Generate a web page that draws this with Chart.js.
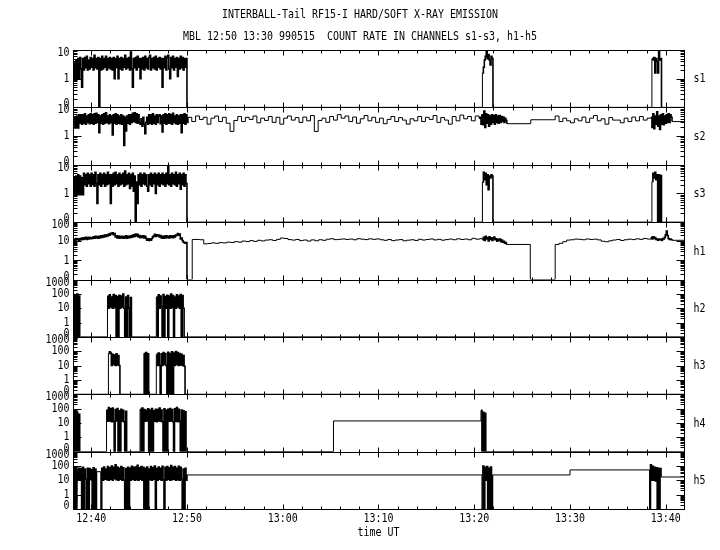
<!DOCTYPE html>
<html>
<head>
<meta charset="utf-8">
<script src="https://cdn.jsdelivr.net/npm/chart.js@4.4.0/dist/chart.umd.min.js"></script>
<style>
  html, body { margin: 0; padding: 0; background: #fff; }
</style>
</head>
<body>
<canvas id="graph" width="720" height="550"></canvas>
<script>
// times are minutes after 12:00 UT; a run is [start, step, values]
const title1 = 'INTERBALL-Tail RF15-I HARD/SOFT X-RAY EMISSION';
const title2 = 'MBL 12:50 13:30 990515  COUNT RATE IN CHANNELS s1-s3, h1-h5';
const xTitle = 'time UT';
const timeMin = 38.1, timeMax = 101.9;
const tickMinutes = [40, 50, 60, 70, 80, 90, 100];
const tickLabels = ['12:40', '12:50', '13:00', '13:10', '13:20', '13:30', '13:40'];
const channels = ['s1', 's2', 's3', 'h1', 'h2', 'h3', 'h4', 'h5'];
const channelMax = [10, 10, 10, 100, 1000, 1000, 1000, 1000];

const s1 = [
  [38.1, 0.1, [1, 3.5, 1, 4.5, 1, 5, 1, 5.5, 2.2, 0.5,
               5, 2, 5.5, 2.4, 6, 2, 4.5, 2.2, 5.5, 2.5,
               5, 2, 6.5, 2.4, 5, 2.2, 5.5, 0, 5, 2,
               6, 2.2, 5, 2.5, 6, 2, 5, 2.4, 5.5, 2.2,
               5, 2, 5.5, 1, 5, 2.4, 6, 1, 5, 2.2,
               5.5, 2, 5, 2.5, 6.5, 2.2, 5, 2.4, 5.5, 2,
               8.5, 2.2, 0.5, 5, 2.4, 5.5, 2, 6, 2.5, 5,
               1, 5, 2.2, 5.5, 2, 6, 2.4, 5, 2.2, 5.5,
               6.5, 2, 5, 2.4, 5.5, 2.2, 6, 2, 5, 2.5,
               5.5, 2.2, 5, 0.5, 5, 2.4, 6, 2, 5.5, 6.5,
               2.2, 1, 5.5, 2.4, 6, 2, 5, 2.5, 5.5, 1.2,
               5, 2.2, 6, 2.4, 5.5, 2, 5, 2.5, 5]],
  [50.0, 0, [0]],
  [80.85, 0.1, [1.6, 2.5, 4.5, 6, 9, 5, 7, 4.5, 3, 6, 5]],
  [81.95, 0, [0]],
  [98.55, 0.1, [5, 4.5, 5.5, 1.6, 5, 4, 1.6, 9, 4.5, 5]],
  [99.55, 0, [0]],
  [101.9, 0, [0]]
];

const s2 = [
  [38.1, 0.1, [1.9, 1.9, 4.5, 1.9, 5, 1.9, 5.5, 2.8, 5.5, 2.6,
               5.5, 2.8, 6, 2.6, 5, 3, 5.5, 2.7, 6, 2.8,
               5.5, 2.6, 6, 2.8, 6.2, 3, 5.5, 1.3, 5, 2.8,
               5.5, 2.6, 6, 2.8, 6.5, 3, 5, 2.7, 5.5, 2.9,
               5, 1.1, 5.5, 2.8, 6, 2.6, 5.5, 2.8, 5, 2.7,
               5.5, 2.6, 5, 0.47, 4.5, 1.5, 5, 2.8, 5.5, 2.6,
               5.5, 3, 6.2, 3.2, 6.5, 3, 6, 2.8, 5.5, 3,
               2.6, 4, 2.2, 4.5, 2.6, 1.2, 3, 4.5, 2.6, 5.5,
               2.8, 5.5, 2.6, 6, 2.8, 5, 2.6, 5.5, 3, 5,
               5.5, 2.7, 5, 1.4, 5.5, 2.8, 6, 2.6, 5.5, 2.8,
               6, 2.8, 5.5, 2.6, 6.2, 3, 5, 2.7, 5.5, 2.6,
               5, 2.8, 5.5, 1.3, 5.5, 2.8, 6, 2.6, 5.5, 3]],
  [50.1, 0.4, [4.5, 3.2, 5, 3.8, 4.5, 2.6, 4.2, 5, 3.2, 4.5,
               2.8, 1.45, 3.5, 4.8, 3.2, 4.5, 3.8, 5, 2.9, 4.2,
               3.5, 4.8, 3, 4.5, 2.6, 4.2, 5, 3.6, 4.4, 3,
               4.6, 3.4, 5.2, 1.45, 3.5, 4.2, 3, 4.8, 3.6, 5.6,
               4.2, 5, 3.2, 4.6, 2.8, 4, 5.2, 3.4, 4.5, 3,
               4.2, 2.7, 3.8, 4.8, 3.2, 4.4, 3.6, 2.6, 4, 3.4,
               4.8, 3.2, 4.5, 3.8, 5.2, 3, 4.4, 3.6, 2.6, 4.8,
               3.4, 5.4, 4, 4.8, 3.4, 5, 4.2]],
  [80.6, 0.1, [4.5, 2.6, 5.5, 2.5, 7.5, 2, 6, 2.8, 5.5, 2.2,
               5, 2.6, 5.5, 3, 5.2, 2.6, 5.5, 3, 5, 2.8,
               5.2, 3, 4.8, 3.2, 4.6, 3, 4.2, 3.5]],
  [83.4, 0, [2.7]],
  [85.9, 0, [3.7]],
  [88.45, 0.4, [5, 3.2, 4.2, 3.4, 2.9, 4, 3.4, 4.6, 3, 4.2,
                5.2, 3.4, 4, 2.6, 4.4, 3.6, 3.6, 2.9, 4.2, 3.2,
                4.6, 3.4, 4.8, 3.6, 4.2]],
  [98.45, 0.1, [4.5, 2, 6, 1.8, 5, 2.6, 7, 2.2, 5, 1.7,
                5.5, 2.6, 6, 2.5, 5, 2.8, 5.5, 3, 6, 3, 5.5, 4.5]],
  [100.65, 0, [3.2]],
  [101.9, 0, [3.2]]
];

const s3 = [
  [38.1, 0.1, [0.9, 3.5, 0.9, 4, 0.9, 4.5, 0.9, 4, 0.9, 3.5,
               0.9, 5, 2, 4.5, 1.8, 5, 2.2, 4.5, 1.8, 5,
               2, 4.5, 1.8, 5.5, 2.2, 0.45, 4.5, 2, 5, 1.8,
               4.5, 2.2, 5, 1.8, 4.5, 2, 5.5, 2.2, 4.5, 0.45,
               4.5, 1.8, 5, 2, 5.5, 2.2, 4.5, 1.8, 5, 2,
               4.5, 2.2, 5, 1.8, 6, 2, 4.5, 2.2, 5, 1.5,
               4.5, 1.8, 5, 1.2, 4, 0, 2.5, 0.45, 4.5, 2,
               5, 1.8, 4.5, 2.2, 5, 2, 4.5, 1.8, 1.2, 4.5,
               2, 5, 1.8, 4.5, 2.2, 5, 1, 4.5, 2, 5,
               1.8, 4.5, 2.2, 5, 2, 4.5, 1.8, 5, 2.2, 9.5,
               2, 4.5, 1.8, 5, 2.2, 4.5, 2, 5.5, 1.8, 4.5,
               2.2, 5, 1.4, 4.5, 2, 5, 1.8, 4.5, 2.2]],
  [50.0, 0, [0]],
  [80.85, 0.1, [2.5, 5.5, 3, 5, 2, 4.5, 1.35, 4, 3.5, 4.5, 4]],
  [81.95, 0, [0]],
  [98.55, 0.1, [2.6, 5, 3.5, 5.5, 3, 4.5, 0, 4.5, 0, 4.2]],
  [99.55, 0, [0]],
  [101.9, 0, [0]]
];

const h1 = [
  [38.1, 0.1, [11, 13, 11, 14, 12, 13.5, 11.5, 14, 12, 14.5,
               12.5, 15, 13, 16, 12.5, 15.5, 13, 16, 13.5, 15,
               14, 17, 14.5, 18, 15, 17.5, 14.5, 18, 15.5, 19,
               16, 20, 17, 21, 18, 22, 19, 24, 21, 26,
               24, 28, 22, 25, 17, 19, 15, 18.5, 14.5, 18,
               15, 18, 14.5, 17.5, 15, 19, 14.5, 18, 15.5, 18.5,
               16, 20, 17, 22, 18, 24, 19, 23, 17, 20,
               15.5, 18.5, 16, 19, 15, 18, 14, 11.5, 13.5, 11,
               13, 11.5, 14, 17, 19, 23, 18, 22, 19, 21,
               17, 20, 15, 18, 14.5, 18.5, 15, 19, 15.5, 18,
               15, 19, 16, 18.5, 15.5, 19, 17, 21, 20, 25,
               21, 24, 13, 14.5, 11, 9, 8.5, 8, 8.5]],
  [50.0, 0, [0]],
  [50.55, 0.4, [12.4, 12.4, 12, 7.3, 7.6, 8.2, 7.8, 8.5, 8.2, 9,
                8.6, 9.5, 9, 10.2, 9.6, 10.8, 9.8, 11.2, 10.4, 11.5,
                12, 11, 12.6, 14.7, 14, 12.2, 11.5, 12.4, 10.8, 11.6,
                10.2, 11.8, 10.6, 12, 11.2, 12.8, 13.5, 12.2, 12.6, 13.2,
                12.4, 13, 12, 13.6, 12.8, 12.2, 13.4, 12.6, 13.2, 12,
                11.2, 12.4, 10.8, 11.6, 12.2, 10.6, 11.4, 12, 11, 12.6,
                11.6, 12.4, 13.2, 11.8, 12.6, 11.4, 12.2, 13, 12, 13.4,
                12.4, 13, 12, 14.2, 12.8, 13.6]],
  [80.85, 0.1, [12, 16, 11, 18, 13, 15.5, 10.5, 17, 12.5, 15,
                11, 14, 16.5, 12, 13.5, 10, 12.5, 11, 13, 9.5,
                11.5, 9, 10, 8, 8.5]],
  [83.35, 0, [6.8]],
  [85.85, 0, [0]],
  [88.45, 0.4, [6.8, 7.8, 9.5, 11.5, 12, 13, 12.6, 12, 13.2, 12.4,
                12.8, 11.8, 10, 9.4, 10.6, 11.6, 12.4, 11, 12, 12.8,
                12.2, 13.4, 12.6, 14, 13]],
  [98.45, 0.1, [16, 13, 17, 14, 15.5, 12.5, 13, 11.5, 13, 12,
                12.5, 11, 14, 13, 16, 22, 33.8, 20, 14, 12.5, 13, 12]],
  [100.65, 0, [11.2]],
  [101.9, 0, [11.2]]
];

const h2 = [
  [38.1, 0.1, [90, 0, 80, 0, 95, 0, 70, 0]],
  [38.9, 0, [0]],
  [41.7, 0.1, [70, 10, 85, 12, 60, 10, 90, 11, 75, 0,
               65, 0, 80, 10, 70, 12, 95, 10, 0, 60,
               0, 75, 10, 0, 55]],
  [44.2, 0, [0]],
  [46.8, 0.1, [60, 0, 85, 10, 70, 12, 0, 90, 0, 65,
               10, 80, 0, 70, 10, 95, 11, 75, 0, 60,
               10, 85, 12, 70, 10, 90, 0, 75, 10]],
  [49.7, 0, [0]],
  [101.9, 0, [0]]
];

const h3 = [
  [38.1, 0, [0]],
  [41.8, 0.1, [70, 90, 75, 10, 60, 12, 55, 10, 65, 11, 50, 10]],
  [43.0, 0, [0]],
  [45.5, 0.1, [70, 0, 80, 0, 65]],
  [46.0, 0, [0]],
  [46.8, 0.1, [60, 10, 75, 10, 0, 65, 10, 80, 12, 70,
               10, 0, 85, 0, 70, 0, 90, 0, 75, 10,
               95, 12, 80, 10, 70, 11, 60, 10, 50, 9]],
  [49.8, 0, [0]],
  [101.9, 0, [0]]
];

const h4 = [
  [38.1, 0.1, [50, 0, 45, 0, 55, 0, 40, 0]],
  [38.9, 0, [0]],
  [41.6, 0.1, [80, 13, 120, 14, 95, 12, 110, 13, 0, 85,
               14, 100, 0, 70, 0, 90, 13, 75, 12, 0, 65, 0]],
  [43.8, 0, [0]],
  [45.1, 0.1, [90, 0, 110, 0, 85, 13, 75, 14, 95, 0,
               80, 0, 100, 0, 70, 13, 90, 12, 85, 14,
               110, 13, 80, 12, 0, 95, 0, 75, 0, 90,
               13, 100, 14, 85, 12, 0, 95, 13, 120, 12,
               90, 14, 0, 80, 0, 70, 0, 60, 0]],
  [50.0, 0, [0]],
  [65.3, 0, [13.8]],
  [80.7, 0.1, [75, 0, 55, 0, 47]],
  [81.2, 0, [0]],
  [101.9, 0, [0]]
];

const h5 = [
  [38.1, 0.1, [60, 0, 75, 0, 55, 12, 70, 11, 65, 0,
               80, 0, 60, 12, 0, 70, 0, 65, 11, 55,
               0, 75, 0, 60]],
  [40.5, 0, [0]],
  [40.55, 0, [40]],
  [41.0, 0.1, [0, 70, 10, 85, 12, 60, 11, 90, 10, 75,
               12, 100, 10, 80, 13, 120, 11, 85, 10, 70,
               12, 90, 10, 75, 11, 0, 65, 0, 80, 0,
               70, 10, 95, 12, 80, 10, 85, 11, 110, 10,
               75, 12, 90, 10, 80, 0, 70, 0, 85, 0,
               60, 11, 90, 10, 75, 12, 100, 0, 65, 10,
               85, 12, 70, 10, 95, 11, 0, 80, 10, 90,
               12, 75, 10, 105, 11, 80, 12, 90, 10, 70,
               11, 95, 10, 80, 12, 0, 60, 0, 70, 10]],
  [50.0, 0, [23.7]],
  [80.8, 0.1, [0, 100, 0, 80, 10, 90, 0, 70, 0, 85, 0]],
  [81.9, 0, [23.7]],
  [90.0, 0, [53]],
  [98.3, 0.1, [0, 120, 10, 95, 10, 80, 9, 75, 0, 70, 0, 65]],
  [99.5, 0, [17]],
  [101.9, 0, [17]]
];

const series = [s1, s2, s3, h1, h2, h3, h4, h5];

// zero counts sit on the bottom of the log panel
function toPoints(runs) {
  let pts = [];
  runs.forEach(([t0, dt, vals]) => {
    vals.forEach((v, i) => {
      pts.push({x: +(t0 + i * dt).toFixed(2), y: v > 0.1 ? v : 0.1});
    });
  });
  return pts;
}

const datasets = series.map((runs, i) => ({
  label: channels[i],
  data: toPoints(runs),
  yAxisID: channels[i],
  borderColor: '#000',
  borderWidth: 1,
  pointRadius: 0,
  stepped: true,
  fill: false,
  // densely sampled stretches get a slightly heavier pen so they read as solid
  segment: {
    borderWidth: (c) => (c.p1.parsed.x - c.p0.parsed.x) < 0.15 ? 1.6 : 1
  }
}));

const scales = {
  x: {type: 'linear', min: timeMin, max: timeMax, display: false}
};
channels.forEach((name, i) => {
  scales[name] = {
    type: 'logarithmic',
    min: 0.1,
    max: channelMax[i],
    position: 'left',
    stack: 'panels',
    stackWeight: 1,
    weight: channels.length - i,
    display: false
  };
});

function label(ctx, s, x, y, align) {
  ctx.save();
  ctx.translate(x, y);
  ctx.scale(0.83, 1);
  ctx.textAlign = align;
  ctx.textBaseline = 'middle';
  ctx.fillText(s, 0, 0);
  ctx.restore();
}

const panelFrame = {
  id: 'panelFrame',
  afterDraw(chart) {
    const ctx = chart.ctx;
    const area = chart.chartArea;
    const xs = chart.scales.x;
    const L = Math.round(area.left) + 0.5;
    const R = Math.round(area.right) + 0.5;
    ctx.save();
    ctx.strokeStyle = '#000';
    ctx.fillStyle = '#000';
    ctx.lineWidth = 1;
    ctx.font = '12px "DejaVu Sans Mono"';

    channels.forEach((name, i) => {
      const sc = chart.scales[name];
      const T = Math.round(sc.top) + 0.5;
      const B = Math.round(sc.bottom) + 0.5;
      ctx.strokeRect(L, T, R - L, B - T);
      ctx.beginPath();
      for (let m = 40; m <= 100; m += 2) {
        const x = Math.round(xs.getPixelForValue(m)) + 0.5;
        const len = m % 10 === 0 ? 5 : 3;
        ctx.moveTo(x, T); ctx.lineTo(x, T + len);
        ctx.moveTo(x, B); ctx.lineTo(x, B - len);
      }
      const topExp = Math.round(Math.log10(channelMax[i]));
      for (let e = -1; e <= topExp; e++) {
        for (let k = 1; k <= 9; k++) {
          if (e === topExp && k > 1) break;
          const y = Math.round(sc.getPixelForValue(k * Math.pow(10, e))) + 0.5;
          const len = k === 1 ? 8 : 4;
          ctx.moveTo(L, y); ctx.lineTo(L + len, y);
          ctx.moveTo(R, y); ctx.lineTo(R - len, y);
        }
      }
      ctx.stroke();

      for (let e = -1; e <= topExp; e++) {
        let y = sc.getPixelForValue(Math.pow(10, e));
        if (e === -1) y = B - 4;
        if (e === topExp) y = T + 2;
        label(ctx, e < 0 ? '0' : String(Math.pow(10, e)), L - 4, y, 'right');
      }
      label(ctx, name, R + 9, (T + B) / 2, 'left');
    });

    tickMinutes.forEach((m, i) => {
      label(ctx, tickLabels[i], xs.getPixelForValue(m), 519, 'center');
    });
    label(ctx, xTitle, (area.left + area.right) / 2, 533, 'center');
    label(ctx, title1, 360, 15, 'center');
    label(ctx, title2, 360, 37, 'center');
    ctx.restore();
  }
};

const chart = new Chart(document.getElementById('graph'), {
  type: 'line',
  data: {datasets},
  options: {
    responsive: false,
    animation: false,
    events: [],
    layout: {padding: {left: 73, right: 36, top: 50, bottom: 41}},
    scales,
    plugins: {legend: {display: false}, tooltip: {enabled: false}, title: {display: false}}
  },
  plugins: [panelFrame]
});
</script>
</body>
</html>
